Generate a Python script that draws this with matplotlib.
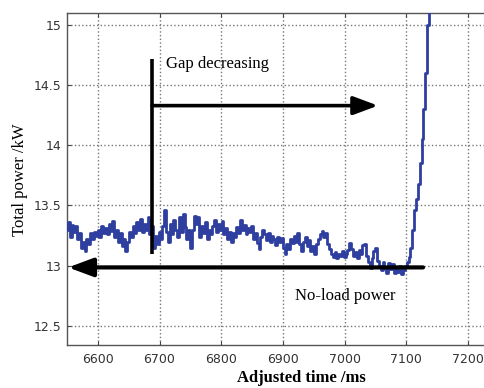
import numpy as np
import matplotlib.pyplot as plt

# -----------------------------
# Data
# -----------------------------
t_ms = np.arange(6550, 7139, 3)
power_kw = [
    13.30, 13.36, 13.24, 13.34, 13.28, 13.33, 13.22, 13.27, 13.15, 13.20, 13.12, 13.22, 13.18, 13.27, 13.22, 13.28, 13.25,
    13.30, 13.24, 13.33, 13.27, 13.31, 13.26, 13.35, 13.29, 13.37, 13.24, 13.30, 13.20, 13.27, 13.16, 13.22, 13.12, 13.20,
    13.28, 13.24, 13.33, 13.27, 13.36, 13.30, 13.39, 13.28, 13.35, 13.30, 13.40, 13.26, 13.33, 13.15, 13.25, 13.18, 13.28,
    13.22, 13.33, 13.46, 13.28, 13.20, 13.35, 13.26, 13.38, 13.30, 13.24, 13.40, 13.28, 13.43, 13.32, 13.22, 13.30, 13.15,
    13.30, 13.41, 13.35, 13.40, 13.24, 13.33, 13.27, 13.36, 13.22, 13.30, 13.26, 13.33, 13.38, 13.28, 13.35, 13.30, 13.37,
    13.26, 13.31, 13.22, 13.28, 13.20, 13.27, 13.24, 13.32, 13.27, 13.38, 13.30, 13.34, 13.26, 13.31, 13.28, 13.33, 13.22,
    13.27, 13.19, 13.14, 13.24, 13.30, 13.26, 13.21, 13.27, 13.20, 13.25, 13.22, 13.17, 13.24, 13.20, 13.23, 13.15, 13.10,
    13.18, 13.14, 13.22, 13.19, 13.25, 13.20, 13.27, 13.18, 13.12, 13.20, 13.24, 13.16, 13.21, 13.12, 13.16, 13.10, 13.18,
    13.22, 13.26, 13.29, 13.24, 13.27, 13.18, 13.14, 13.10, 13.07, 13.11, 13.06, 13.10, 13.08, 13.12, 13.07, 13.10, 13.13,
    13.19, 13.14, 13.08, 13.11, 13.06, 13.13, 13.10, 13.17, 13.18, 13.08, 13.03, 12.98, 13.06, 13.12, 13.15, 13.04, 13.00,
    12.96, 13.03, 12.98, 12.94, 13.02, 12.97, 13.01, 12.94, 12.99, 12.95, 13.00, 12.93, 12.96, 13.00, 13.03,
    13.07, 13.15, 13.30, 13.46, 13.55, 13.68, 13.85, 14.05, 14.30, 14.60, 15.00, 15.40,
]

x_ticks = [6600, 6700, 6800, 6900, 7000, 7100, 7200]
y_ticks = [12.5, 13, 13.5, 14, 14.5, 15]
y_tick_labels = ["12.5", "13", "13.5", "14", "14.5", "15"]

gap_t, gap_bottom, gap_top = 6688, 13.1, 14.72
gap_arrow_y, gap_arrow_end = 14.33, 7054
noload_y, noload_start, noload_end = 12.985, 7127, 6552

# -----------------------------
# Figure
# -----------------------------
fig = plt.figure(figsize=(4.85, 3.88), dpi=100)
ax = fig.add_axes([0.1381, 0.1108, 0.8907, 0.8557])

ax.plot(t_ms, power_kw, color="#2e3f9f", lw=2.0, drawstyle="steps-mid", zorder=3)

ax.set_xlim(6550, 7250)
ax.set_ylim(12.34, 15.1)
ax.set_xticks(x_ticks)
ax.set_yticks(y_ticks)
ax.set_yticklabels(y_tick_labels)
ax.grid(True, linestyle=":", color="#777777", lw=1.0)
ax.tick_params(direction="in", length=3, top=True, right=False,
               labelsize=9, labelcolor="#333333", color="#444444")
ax.tick_params(axis="x", pad=6)
ax.tick_params(axis="y", pad=4)
for s in ax.spines.values():
    s.set_color("#555555")
    s.set_linewidth(1.0)
ax.spines["right"].set_visible(False)

# annotations
arrow_style = "-|>,head_length=0.75,head_width=0.28"
ax.plot([gap_t, gap_t], [gap_bottom, gap_top], color="k", lw=2.6, zorder=4,
        solid_capstyle="butt")
ax.annotate("", xy=(gap_arrow_end, gap_arrow_y), xytext=(gap_t, gap_arrow_y),
            arrowprops=dict(arrowstyle=arrow_style, lw=2.6, color="k",
                            shrinkA=0, shrinkB=0, mutation_scale=20), zorder=4)
ax.annotate("", xy=(noload_end, noload_y), xytext=(noload_start, noload_y),
            arrowprops=dict(arrowstyle=arrow_style, lw=3.0, color="k",
                            shrinkA=0, shrinkB=0, mutation_scale=20), zorder=4)

ax.text(6710, 14.68, "Gap decreasing", family="Liberation Serif",
        fontsize=12, va="center", ha="left")
ax.text(6920, 12.75, "No-load power", family="Liberation Serif",
        fontsize=12, va="center", ha="left")

fig.text(20 / 485, 1 - 180 / 388, "Total power /kW", family="Liberation Serif",
         fontsize=12, rotation=90, va="center", ha="center")
fig.text(301 / 485, 1 - 378 / 388, "Adjusted time /ms", family="Liberation Serif",
         fontsize=12, fontweight="bold", va="center", ha="center")

fig.savefig("out.png", dpi=100)
